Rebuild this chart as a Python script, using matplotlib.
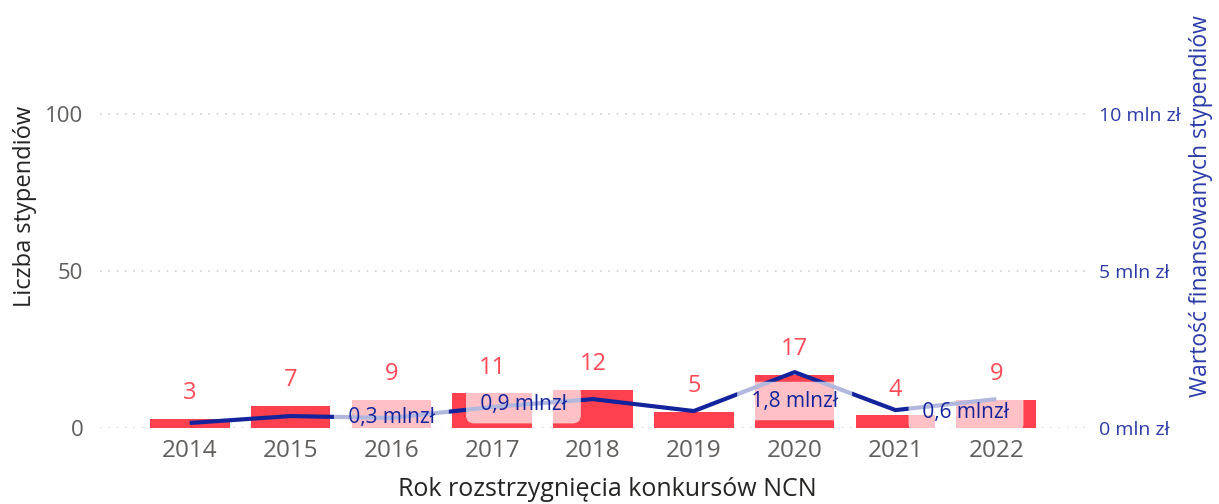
import matplotlib
matplotlib.use('Agg')
import matplotlib.pyplot as plt

plt.rcParams['font.family'] = ['Open Sans', 'DejaVu Sans']

years = ['2014', '2015', '2016', '2017', '2018', '2019', '2020', '2021', '2022']
counts = [3, 7, 9, 11, 12, 5, 17, 4, 9]
value_mln = [0.16, 0.38, 0.32, 0.67, 0.92, 0.54, 1.78, 0.57, 0.92]

# which points get a value label, and where Power BI pushed the label
label_years = ['2016', '2018', '2020', '2021']
label_dx = [0.0, -0.69, 0.0, 0.70]
label_y = [0.32, 0.76, 0.86, 0.48]

bar_red = '#FF404E'
navy = '#13239C'
gray = '#605E5C'

fig = plt.figure(figsize=(12.19, 5.04), dpi=100)
ax = fig.add_axes([100 / 1219, 76 / 504, 985 / 1219, 408 / 504])
ax2 = ax.twinx()

x = list(range(len(years)))
ax.bar(x, counts, width=0.79, color=bar_red, zorder=2)
for xi, c in zip(x, counts):
    ax.annotate(str(c), (xi, c), xytext=(0, 10), textcoords='offset points',
                ha='center', va='bottom', fontsize=17, color='#FF4A57')

ax2.plot(x, value_mln, color=navy, lw=3, zorder=3, solid_capstyle='butt')
for yr, dx, ly in zip(label_years, label_dx, label_y):
    i = years.index(yr)
    txt = f"{value_mln[i]:.1f}".replace('.', ',') + ' mlnzł'
    ax2.text(i + dx, ly, ' ' + txt + ' ', ha='center', va='center', fontsize=15,
             color=navy, zorder=5,
             bbox=dict(boxstyle='round,pad=0.42,rounding_size=0.4',
                       fc='white', ec='none', alpha=0.68))

ax.set_xlim(-0.89, 8.88)
ax.set_ylim(0, 130)
ax2.set_ylim(0, 13)

ax.set_xticks(x)
ax.set_xticklabels(years)
ax.set_yticks([0, 50, 100])
ax2.set_yticks([0, 5, 10])
ax2.set_yticklabels(['0 mln zł', '5 mln zł', '10 mln zł'])

ax.tick_params(axis='x', length=0, pad=8, labelsize=17.5, labelcolor=gray)
ax.tick_params(axis='y', length=0, pad=12, labelsize=16, labelcolor=gray)
ax2.tick_params(axis='y', length=0, pad=10, labelsize=14, labelcolor='#2B3BA8')

ax.yaxis.grid(True, linestyle=(0, (1, 4)), color='#CFCFCF', lw=1.2)
ax.set_axisbelow(True)
for a in (ax, ax2):
    for s in a.spines.values():
        s.set_visible(False)

fig.text(25 / 1219, 1 - 206 / 504, 'Liczba stypendiów', rotation=90,
         ha='center', va='center', fontsize=17, color='#252423')
fig.text(1201 / 1219, 1 - 206 / 504, 'Wartość finansowanych stypendiów',
         rotation=90, ha='center', va='center', fontsize=16.5, color='#2B3BA8')
fig.text(607 / 1219, 1 - 489 / 504, 'Rok rozstrzygnięcia konkursów NCN',
         ha='center', va='center', fontsize=18, color='#252423')

fig.savefig('out.png', dpi=100)
